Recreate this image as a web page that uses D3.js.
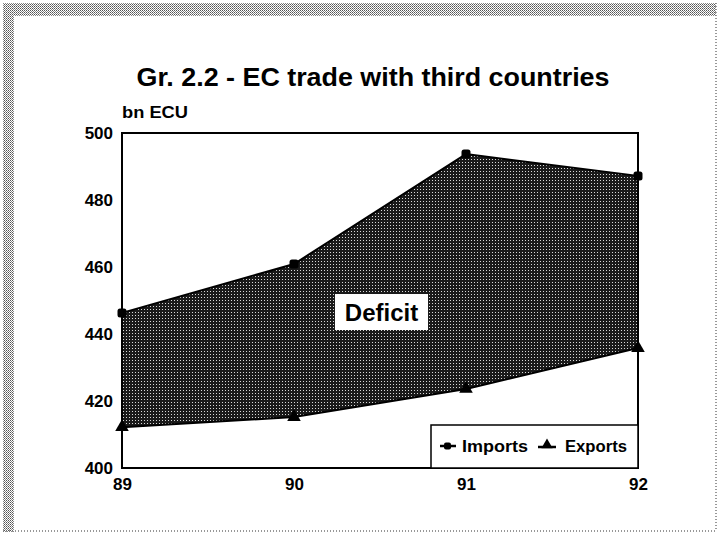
<!DOCTYPE html>
<html><head><meta charset="utf-8">
<script src="https://cdn.jsdelivr.net/npm/d3@7"></script>
<style>body{margin:0;background:#fff}svg{display:block}text{font-family:"Liberation Sans",Arial,sans-serif;font-weight:bold;fill:#000}</style>
</head><body>
<script>
const years = ["89","90","91","92"];
const imports = [446.3, 460.9, 493.7, 487.2];
const exports_ = [412.2, 415.2, 423.6, 435.8];
const yTicks = [400, 420, 440, 460, 480, 500];
const title = "Gr. 2.2 - EC trade with third countries";
const unitLabel = "bn ECU";
const areaLabel = "Deficit";
const seriesNames = ["Imports", "Exports"];

const W = 719, H = 535;
const svg = d3.select("body").append("svg").attr("width", W).attr("height", H);
const defs = svg.append("defs");
const fp = defs.append("pattern").attr("id","fillpat").attr("width",3).attr("height",3).attr("patternUnits","userSpaceOnUse");
fp.append("rect").attr("width",3).attr("height",3).attr("fill","#1a1a1a");
fp.append("rect").attr("x",0).attr("y",0).attr("width",1).attr("height",1).attr("fill","#d8d8d8");
const bp = defs.append("pattern").attr("id","borderpat").attr("width",2).attr("height",2).attr("patternUnits","userSpaceOnUse");
bp.append("rect").attr("width",2).attr("height",2).attr("fill","#fff");
bp.append("rect").attr("width",1).attr("height",1).attr("fill","#555");
bp.append("rect").attr("x",1).attr("y",1).attr("width",1).attr("height",1).attr("fill","#888");

// stippled frame
svg.append("rect").attr("x",3).attr("y",3).attr("width",W-6).attr("height",13).attr("fill","url(#borderpat)");
svg.append("rect").attr("x",3).attr("y",3).attr("width",11).attr("height",H-6).attr("fill","url(#borderpat)");
svg.append("line").attr("x1",716).attr("x2",716).attr("y1",3).attr("y2",531).attr("stroke","#777").attr("stroke-width",1.5).attr("stroke-dasharray","1,2");
svg.append("line").attr("x1",3).attr("x2",716).attr("y1",531).attr("y2",531).attr("stroke","#777").attr("stroke-width",1.5).attr("stroke-dasharray","1,2");

const x = d3.scalePoint().domain(years).range([122, 638]);
const y = d3.scaleLinear().domain([400, 500]).range([468, 133]);

svg.append("text").attr("x",373).attr("y",86).attr("text-anchor","middle").style("font-size","26px")
  .attr("textLength",473).attr("lengthAdjust","spacingAndGlyphs").text(title);
svg.append("text").attr("x",122).attr("y",118).style("font-size","16px")
  .attr("textLength",66).attr("lengthAdjust","spacingAndGlyphs").text(unitLabel);

// area
const area = d3.area().x((d,i)=>x(years[i])).y0((d,i)=>y(exports_[i])).y1(d=>y(d));
svg.append("path").datum(imports).attr("d",area).attr("fill","url(#fillpat)");
const line = d3.line().x((d,i)=>x(years[i])).y(d=>y(d));
svg.append("path").datum(imports).attr("d",line).attr("fill","none").attr("stroke","#000").attr("stroke-width",2);
svg.append("path").datum(exports_).attr("d",line).attr("fill","none").attr("stroke","#000").attr("stroke-width",2);

// frame
svg.append("rect").attr("x",122).attr("y",133).attr("width",516).attr("height",335).attr("fill","none").attr("stroke","#000").attr("stroke-width",2);

// axes
const yAxis = d3.axisLeft(y).tickValues(yTicks).tickSize(0).tickPadding(9);
const gy = svg.append("g").attr("transform","translate(122,0)").call(yAxis);
gy.select(".domain").remove();
gy.selectAll("text").style("font-size","17px").style("font-family","'Liberation Sans',Arial,sans-serif").attr("font-weight","bold");
const xAxis = d3.axisBottom(x).tickSize(0).tickPadding(10);
const gx = svg.append("g").attr("transform","translate(0,468)").call(xAxis);
gx.select(".domain").remove();
gx.selectAll("text").style("font-size","17px").style("font-family","'Liberation Sans',Arial,sans-serif").attr("font-weight","bold");

// markers
svg.selectAll(".imp").data(imports).enter().append("rect").attr("class","imp")
  .attr("x",(d,i)=>x(years[i])-4.5).attr("y",d=>y(d)-4.5).attr("width",9).attr("height",9).attr("rx",2.5).attr("fill","#000");
const tri = d3.symbol().type(d3.symbolTriangle).size(80);
svg.selectAll(".exp").data(exports_).enter().append("path").attr("class","exp")
  .attr("transform",(d,i)=>`translate(${x(years[i])},${y(d)})`).attr("d",tri).attr("fill","#000");

// deficit label
svg.append("rect").attr("x",335).attr("y",294).attr("width",93).attr("height",36).attr("fill","#fff");
svg.append("text").attr("x",381.5).attr("y",321).attr("text-anchor","middle").style("font-size","24px").text(areaLabel);

// legend
svg.append("rect").attr("x",431).attr("y",425).attr("width",207).attr("height",43).attr("fill","#fff").attr("stroke","#000").attr("stroke-width",1.5);
const ly = 446;
svg.append("line").attr("x1",440).attr("x2",456).attr("y1",ly).attr("y2",ly).attr("stroke","#000").attr("stroke-width",2.5);
svg.append("rect").attr("x",444).attr("y",ly-3.5).attr("width",7).attr("height",7).attr("rx",2).attr("fill","#000");
svg.append("text").attr("x",462).attr("y",ly+6).style("font-size","17px").attr("textLength",66).attr("lengthAdjust","spacingAndGlyphs").text(seriesNames[0]);
svg.append("line").attr("x1",538).attr("x2",556).attr("y1",ly+1).attr("y2",ly+1).attr("stroke","#000").attr("stroke-width",2.5);
svg.append("path").attr("transform",`translate(547,${ly-1})`).attr("d",d3.symbol().type(d3.symbolTriangle).size(55)()).attr("fill","#000");
svg.append("text").attr("x",565).attr("y",ly+6).style("font-size","17px").attr("textLength",62).attr("lengthAdjust","spacingAndGlyphs").text(seriesNames[1]);
</script>
</body></html>
